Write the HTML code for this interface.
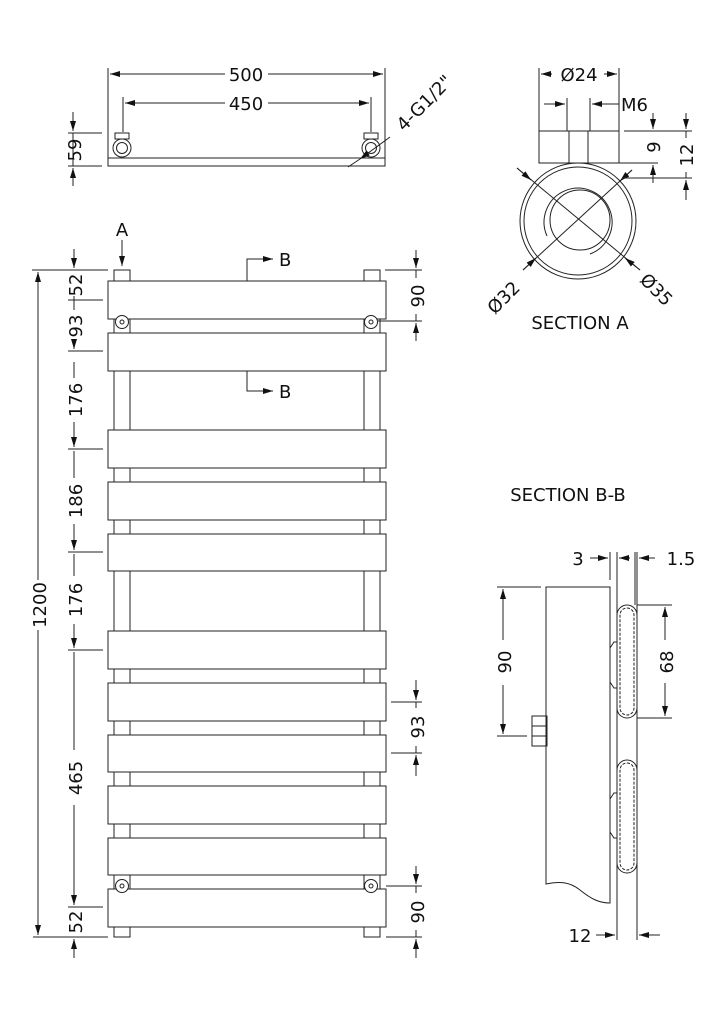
<!DOCTYPE html>
<html><head><meta charset="utf-8"><style>
html,body{margin:0;padding:0;background:#fff}
svg{display:block}
text{font-family:"DejaVu Sans","Liberation Sans",sans-serif;fill:#111}
</style></head><body>
<svg width="724" height="1024" viewBox="0 0 724 1024" xmlns="http://www.w3.org/2000/svg">
<defs>
<marker id="a" viewBox="0 0 10 6" refX="10" refY="3" markerWidth="10" markerHeight="6" orient="auto" markerUnits="userSpaceOnUse"><path d="M0,0 L10,3 L0,6z" fill="#111"/></marker>
</defs>
<g stroke="#222" stroke-width="1" fill="none">
<!-- TOP VIEW -->
<line x1="108" y1="68" x2="108" y2="160"/><line x1="385" y1="68" x2="385" y2="160"/>
<line x1="123" y1="97" x2="123" y2="132"/><line x1="371" y1="97" x2="371" y2="132"/>
<line x1="225" y1="74" x2="110" y2="74" marker-end="url(#a)"/><line x1="268" y1="74" x2="383" y2="74" marker-end="url(#a)"/>
<line x1="225" y1="103" x2="125" y2="103" marker-end="url(#a)"/><line x1="268" y1="103" x2="369" y2="103" marker-end="url(#a)"/>
<rect x="108" y="158" width="277" height="8" fill="#fff"/>
<rect x="115" y="133" width="14" height="6"/><rect x="364" y="133" width="14" height="6"/>
<circle cx="122" cy="148" r="9" fill="#fff"/><circle cx="122" cy="148" r="5.5"/>
<circle cx="371" cy="148" r="9" fill="#fff"/><circle cx="371" cy="148" r="5.5"/>
<line x1="68" y1="133" x2="102" y2="133"/><line x1="68" y1="166" x2="102" y2="166"/>
<line x1="73" y1="112" x2="73" y2="131" marker-end="url(#a)"/><line x1="73" y1="186" x2="73" y2="168" marker-end="url(#a)"/>
<line x1="73" y1="133" x2="73" y2="166"/>
<line x1="390" y1="137" x2="360" y2="159" marker-end="url(#a)"/><line x1="360" y1="159" x2="348" y2="167"/>
<!-- FRONT VIEW columns -->
<rect x="114" y="270" width="16" height="667" fill="#fff"/>
<rect x="364" y="270" width="16" height="667" fill="#fff"/>
<g fill="#fff">
<rect x="108" y="281" width="278" height="38"/>
<rect x="108" y="333" width="278" height="38"/>
<rect x="108" y="430" width="278" height="38"/>
<rect x="108" y="482" width="278" height="38"/>
<rect x="108" y="534" width="278" height="37"/>
<rect x="108" y="631" width="278" height="38"/>
<rect x="108" y="683" width="278" height="38"/>
<rect x="108" y="735" width="278" height="37"/>
<rect x="108" y="786" width="278" height="38"/>
<rect x="108" y="838" width="278" height="37"/>
<rect x="108" y="889" width="278" height="38"/>
</g>
<circle cx="122" cy="322" r="6.5" fill="#fff"/><circle cx="122" cy="322" r="2"/>
<circle cx="371" cy="322" r="6.5" fill="#fff"/><circle cx="371" cy="322" r="2"/>
<circle cx="122" cy="886" r="6.5" fill="#fff"/><circle cx="122" cy="886" r="2"/>
<circle cx="371" cy="886" r="6.5" fill="#fff"/><circle cx="371" cy="886" r="2"/>
<line x1="122" y1="240" x2="122" y2="266" marker-end="url(#a)"/>
<polyline points="247,281 247,259 272,259"/><line x1="262" y1="259" x2="273" y2="259" marker-end="url(#a)"/>
<polyline points="247,371 247,391 272,391"/><line x1="262" y1="391" x2="273" y2="391" marker-end="url(#a)"/>
<!-- 1200 -->
<line x1="32" y1="270" x2="108" y2="270"/><line x1="33" y1="937" x2="108" y2="937"/>
<line x1="38" y1="580" x2="38" y2="272" marker-end="url(#a)"/><line x1="38" y1="630" x2="38" y2="935" marker-end="url(#a)"/>
<!-- left chain -->
<line x1="68" y1="300" x2="103" y2="300"/><line x1="68" y1="351" x2="103" y2="351"/>
<line x1="68" y1="449" x2="103" y2="449"/><line x1="68" y1="552" x2="103" y2="552"/>
<line x1="68" y1="650" x2="103" y2="650"/><line x1="68" y1="907" x2="103" y2="907"/>
<line x1="74" y1="249" x2="74" y2="268" marker-end="url(#a)"/>
<line x1="74" y1="296" x2="74" y2="310"/>
<line x1="74" y1="340" x2="74" y2="349" marker-end="url(#a)"/>
<line x1="74" y1="362" x2="74" y2="378"/>
<line x1="74" y1="422" x2="74" y2="447" marker-end="url(#a)"/>
<line x1="74" y1="451" x2="74" y2="478"/>
<line x1="74" y1="524" x2="74" y2="550" marker-end="url(#a)"/>
<line x1="74" y1="554" x2="74" y2="576"/>
<line x1="74" y1="624" x2="74" y2="648" marker-end="url(#a)"/>
<line x1="74" y1="652" x2="74" y2="750"/>
<line x1="74" y1="805" x2="74" y2="905" marker-end="url(#a)"/>
<line x1="74" y1="958" x2="74" y2="939" marker-end="url(#a)"/>
<!-- right dims -->
<line x1="385" y1="270" x2="422" y2="270"/><line x1="378" y1="321" x2="422" y2="321"/>
<line x1="416" y1="250" x2="416" y2="268" marker-end="url(#a)"/><line x1="416" y1="341" x2="416" y2="323" marker-end="url(#a)"/>
<line x1="416" y1="270" x2="416" y2="278"/><line x1="416" y1="314" x2="416" y2="321"/>
<line x1="391" y1="702" x2="422" y2="702"/><line x1="391" y1="753" x2="422" y2="753"/>
<line x1="416" y1="680" x2="416" y2="700" marker-end="url(#a)"/><line x1="416" y1="776" x2="416" y2="755" marker-end="url(#a)"/>
<line x1="416" y1="702" x2="416" y2="708"/><line x1="416" y1="746" x2="416" y2="753"/>
<line x1="386" y1="886" x2="422" y2="886"/><line x1="386" y1="937" x2="422" y2="937"/>
<line x1="416" y1="866" x2="416" y2="884" marker-end="url(#a)"/><line x1="416" y1="958" x2="416" y2="939" marker-end="url(#a)"/>
<line x1="416" y1="886" x2="416" y2="893"/><line x1="416" y1="930" x2="416" y2="937"/>
<!-- SECTION A -->
<line x1="539" y1="68" x2="539" y2="131"/><line x1="619" y1="68" x2="619" y2="131"/>
<line x1="552" y1="74" x2="541" y2="74" marker-end="url(#a)"/><line x1="604" y1="74" x2="617" y2="74" marker-end="url(#a)"/>
<line x1="567" y1="98" x2="567" y2="163"/><line x1="590" y1="98" x2="590" y2="163"/>
<line x1="544" y1="104" x2="565" y2="104" marker-end="url(#a)"/><line x1="619" y1="104" x2="592" y2="104" marker-end="url(#a)"/>
<rect x="539" y="131" width="80" height="32" fill="#fff"/>
<line x1="569" y1="131" x2="569" y2="163"/><line x1="588" y1="131" x2="588" y2="163"/>
<circle cx="578" cy="221" r="58" fill="#fff"/><circle cx="578" cy="221" r="54"/>
<circle cx="580" cy="220" r="30"/>
<path d="M547,236 A34,34 0 1 1 590,254"/>
<line x1="517" y1="168" x2="640" y2="270"/><line x1="523" y1="270" x2="632" y2="170"/>
<line x1="517" y1="168" x2="531" y2="180" marker-end="url(#a)"/>
<line x1="640" y1="270" x2="625" y2="258" marker-end="url(#a)"/>
<line x1="523" y1="270" x2="536" y2="258" marker-end="url(#a)"/>
<line x1="632" y1="170" x2="620" y2="181" marker-end="url(#a)"/>
<line x1="624" y1="131" x2="692" y2="131"/><line x1="600" y1="163" x2="658" y2="163"/>
<line x1="622" y1="178" x2="692" y2="178"/>
<line x1="653" y1="113" x2="653" y2="129" marker-end="url(#a)"/><line x1="653" y1="183" x2="653" y2="165" marker-end="url(#a)"/>
<line x1="686" y1="113" x2="686" y2="129" marker-end="url(#a)"/><line x1="686" y1="200" x2="686" y2="180" marker-end="url(#a)"/>
<line x1="686" y1="131" x2="686" y2="138"/><line x1="686" y1="172" x2="686" y2="178"/>
<!-- SECTION B-B -->
<path d="M546,587 L610,587 L610,903 C598,903 590,898 580,890 C570,882 560,881 546,884 Z" fill="#fff"/>
<rect x="532" y="716" width="15" height="10"/><rect x="532" y="726" width="15" height="10"/><rect x="532" y="736" width="15" height="10"/>
<line x1="610" y1="552" x2="610" y2="580"/><line x1="617" y1="552" x2="617" y2="940"/>
<line x1="635" y1="552" x2="635" y2="605"/><line x1="637" y1="552" x2="637" y2="940"/>
<line x1="590" y1="558" x2="608" y2="558" marker-end="url(#a)"/><line x1="630" y1="558" x2="619" y2="558" marker-end="url(#a)"/>
<line x1="655" y1="558" x2="639" y2="558" marker-end="url(#a)"/>
<rect x="617" y="605" width="20" height="113" rx="10" fill="#fff"/><rect x="620" y="608" width="14" height="107" rx="7" stroke-dasharray="3 1.5"/>
<rect x="617" y="760" width="20" height="113" rx="10" fill="#fff"/><rect x="620" y="763" width="14" height="107" rx="7" stroke-dasharray="3 1.5"/>
<path d="M610,648 L614,642 L617,642 M610,682 L614,688 L617,688"/>
<path d="M610,799 L614,793 L617,793 M610,832 L614,838 L617,838"/>
<line x1="637" y1="605" x2="672" y2="605"/><line x1="637" y1="718" x2="672" y2="718"/>
<line x1="665" y1="640" x2="665" y2="607" marker-end="url(#a)"/><line x1="665" y1="683" x2="665" y2="716" marker-end="url(#a)"/>
<line x1="497" y1="587" x2="541" y2="587"/><line x1="497" y1="736" x2="527" y2="736"/>
<line x1="503" y1="640" x2="503" y2="589" marker-end="url(#a)"/><line x1="503" y1="685" x2="503" y2="734" marker-end="url(#a)"/>
<line x1="596" y1="935" x2="615" y2="935" marker-end="url(#a)"/><line x1="660" y1="935" x2="639" y2="935" marker-end="url(#a)"/>
</g>
<g font-size="18">
<text x="246" y="81" text-anchor="middle">500</text>
<text x="246" y="110" text-anchor="middle">450</text>
<text transform="translate(81,150) rotate(-90)" text-anchor="middle">59</text>
<text transform="translate(404,132) rotate(-45)">4-G1/2"</text>
<text x="122" y="236" text-anchor="middle">A</text>
<text x="279" y="266">B</text>
<text x="279" y="398">B</text>
<text transform="translate(46,605) rotate(-90)" text-anchor="middle">1200</text>
<text transform="translate(82,285) rotate(-90)" text-anchor="middle">52</text>
<text transform="translate(82,326) rotate(-90)" text-anchor="middle">93</text>
<text transform="translate(82,400) rotate(-90)" text-anchor="middle">176</text>
<text transform="translate(82,501) rotate(-90)" text-anchor="middle">186</text>
<text transform="translate(82,600) rotate(-90)" text-anchor="middle">176</text>
<text transform="translate(82,778) rotate(-90)" text-anchor="middle">465</text>
<text transform="translate(82,922) rotate(-90)" text-anchor="middle">52</text>
<text transform="translate(424,296) rotate(-90)" text-anchor="middle">90</text>
<text transform="translate(424,727) rotate(-90)" text-anchor="middle">93</text>
<text transform="translate(424,912) rotate(-90)" text-anchor="middle">90</text>
<text x="579" y="81" text-anchor="middle">Ø24</text>
<text x="621" y="111">M6</text>
<text transform="translate(660,147) rotate(-90)" text-anchor="middle">9</text>
<text transform="translate(693,155) rotate(-90)" text-anchor="middle">12</text>
<text transform="translate(508,302) rotate(-45)" text-anchor="middle">Ø32</text>
<text transform="translate(652,294) rotate(45)" text-anchor="middle">Ø35</text>
<text x="580" y="329" text-anchor="middle">SECTION A</text>
<text x="568" y="501" text-anchor="middle">SECTION B-B</text>
<text x="578" y="565" text-anchor="middle">3</text>
<text x="681" y="565" text-anchor="middle">1.5</text>
<text transform="translate(673,662) rotate(-90)" text-anchor="middle">68</text>
<text transform="translate(511,662) rotate(-90)" text-anchor="middle">90</text>
<text x="580" y="942" text-anchor="middle">12</text>
</g>
</svg>
</body></html>
